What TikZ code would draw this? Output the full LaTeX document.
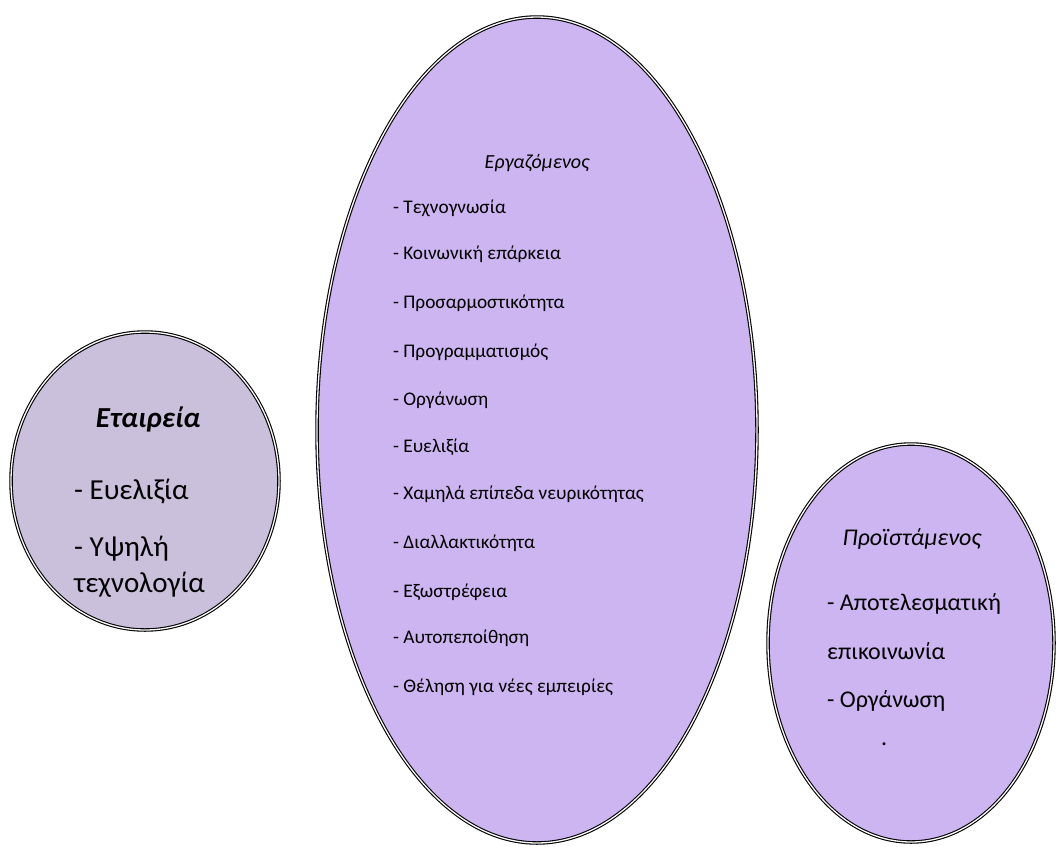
\documentclass[tikz,border=0pt]{standalone}
\usepackage{fontspec}
\setmainfont{Carlito}
\usetikzlibrary{shapes.geometric}
\definecolor{leftfill}{HTML}{CBC0DB}
\definecolor{midfill}{HTML}{CCB5F0}
\tikzset{
  oval/.style={ellipse, inner sep=0pt, draw=black, double=white, line width=1.1pt, double distance=1.3pt},
  itemtxt/.style={anchor=west, inner sep=0pt, font=\fontsize{19.3}{22}\selectfont},
  bigtxt/.style={anchor=west, inner sep=0pt, font=\fontsize{29}{34}\selectfont},
  righttxt/.style={anchor=west, inner sep=0pt, font=\fontsize{24}{28}\selectfont}
}
\begin{document}
\begin{tikzpicture}[x=1pt,y=-1pt]
\useasboundingbox (0,0) rectangle (1057,846);
% ellipses
\node[oval, fill=leftfill, minimum width=268pt, minimum height=298pt] (company) at (145,481) {};
\node[oval, fill=midfill, minimum width=440pt, minimum height=826pt] (employee) at (537,430) {};
\node[oval, fill=midfill, minimum width=286pt, minimum height=398pt] (boss) at (911,643) {};
% left texts
\node[inner sep=0pt, font=\fontsize{29}{34}\selectfont\bfseries\itshape] (ctitle) at (148,419) {Εταιρεία};
\node[bigtxt] (c1) at (74,492) {- Ευελιξία};
\node[bigtxt] (c2) at (74,549) {- Υψηλή};
\node[bigtxt] (c3) at (74,585) {τεχνολογία};
% middle texts
\node[inner sep=0pt, font=\fontsize{20}{24}\selectfont\itshape] (etitle) at (537,163) {Εργαζόμενος};
\node[itemtxt] (e1) at (393,208) {- Τεχνογνωσία};
\node[itemtxt] (e2) at (393,254) {- Κοινωνική επάρκεια};
\node[itemtxt] (e3) at (393,303) {- Προσαρμοστικότητα};
\node[itemtxt] (e4) at (393,352) {- Προγραμματισμός};
\node[itemtxt] (e5) at (393,400) {- Οργάνωση};
\node[itemtxt] (e6) at (393,447) {- Ευελιξία};
\node[itemtxt] (e7) at (393,494) {- Χαμηλά επίπεδα νευρικότητας};
\node[itemtxt] (e8) at (393,543) {- Διαλλακτικότητα};
\node[itemtxt] (e9) at (393,592) {- Εξωστρέφεια};
\node[itemtxt] (e10) at (393,638) {- Αυτοπεποίθηση};
\node[itemtxt] (e11) at (393,687) {- Θέληση για νέες εμπειρίες};
% right texts
\node[inner sep=0pt, font=\fontsize{24}{28}\selectfont\itshape] (btitle) at (912,539) {Προϊστάμενος};
\node[righttxt] (b1) at (827,604) {- Αποτελεσματική};
\node[righttxt] (b2) at (827,651) {επικοινωνία};
\node[righttxt] (b3) at (827,701) {- Οργάνωση};
\node[righttxt] (b4) at (881,744) {.};
\end{tikzpicture}
\end{document}
